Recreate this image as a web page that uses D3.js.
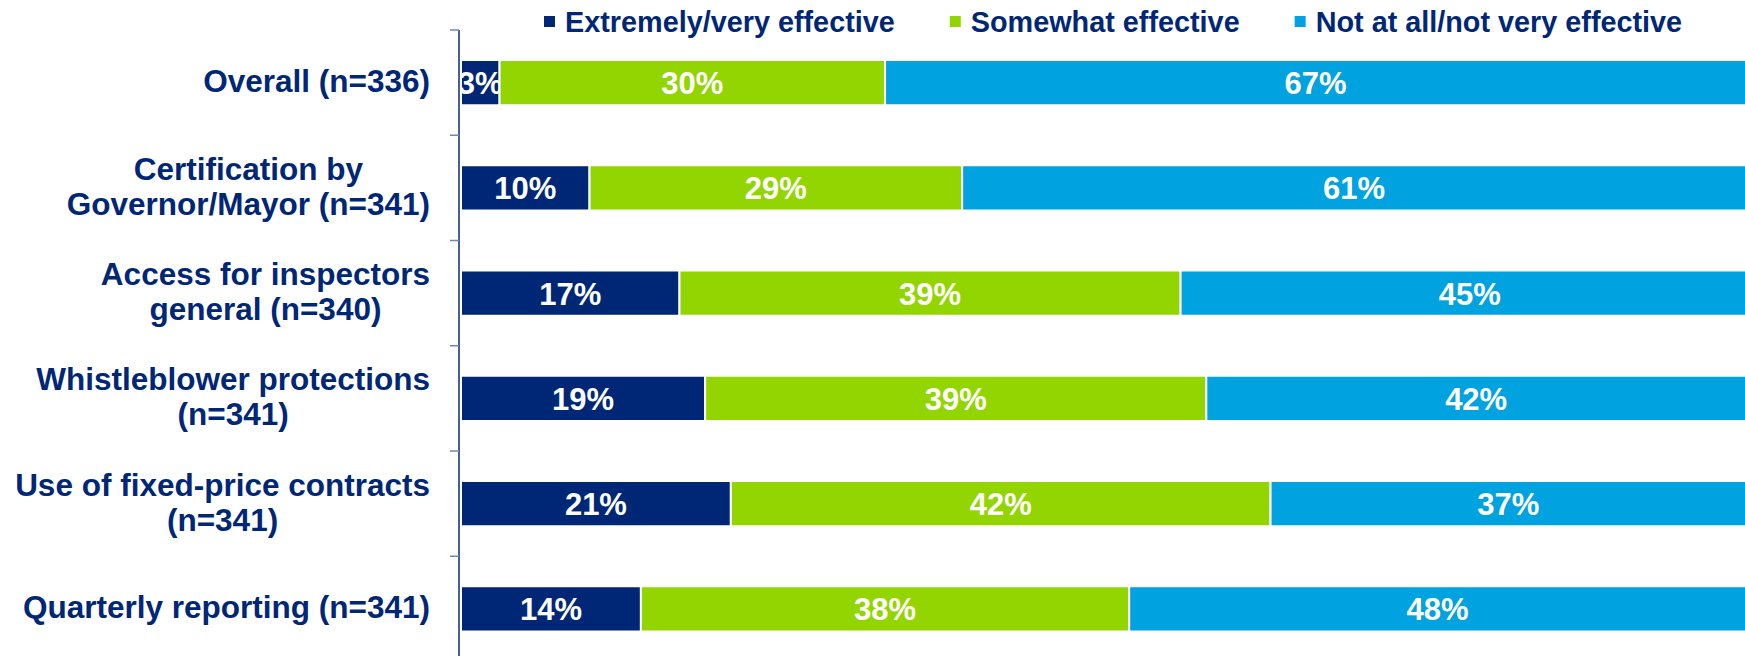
<!DOCTYPE html>
<html>
<head>
<meta charset="utf-8">
<script src="https://cdn.jsdelivr.net/npm/d3@7"></script>
<style>
  html, body { margin: 0; padding: 0; background: #fff; overflow: hidden; }
  svg { display: block; font-family: "Liberation Sans", Arial, sans-serif; font-weight: bold; }
</style>
</head>
<body>
<div id="chart"></div>
<script>
// categories (top to bottom), each split into label lines
const categories = [
    'Overall (n=336)',
    'Certification by Governor/Mayor (n=341)',
    'Access for inspectors general (n=340)',
    'Whistleblower protections (n=341)',
    'Use of fixed-price contracts (n=341)',
    'Quarterly reporting (n=341)'
];
const labelLines = [
    ['Overall (n=336)'],
    ['Certification by', 'Governor/Mayor (n=341)'],
    ['Access for inspectors', 'general (n=340)'],
    ['Whistleblower protections', '(n=341)'],
    ['Use of fixed-price contracts', '(n=341)'],
    ['Quarterly reporting (n=341)']
];

const seriesNames = ['Extremely/very effective', 'Somewhat effective', 'Not at all/not very effective'];
const seriesColors = ['#002776', '#93d500', '#00a2e0'];

// percent values per series, in category order
const extremelyVery = [3, 10, 17, 19, 21, 14];
const somewhat = [30, 29, 39, 39, 42, 38];
const notAtAll = [67, 61, 45, 42, 37, 48];

const width = 1745;
const height = 656;
const axisX = 459;
const textColor = '#002776';

const rows = categories.map((c, i) => ({
    category: c,
    [seriesNames[0]]: extremelyVery[i],
    [seriesNames[1]]: somewhat[i],
    [seriesNames[2]]: notAtAll[i]
}));

const stacked = d3.stack().keys(seriesNames)(rows);

const x = d3.scaleLinear()
    .domain([0, 100])
    .range([axisX + 2, axisX + 2 + 1285]);

const y = d3.scaleBand()
    .domain(categories)
    .range([30, 661.5])
    .padding(0);

const barH = y.bandwidth() * 0.43;
const barOffset = (y.bandwidth() - barH) / 2;

const svg = d3.select('#chart')
    .append('svg')
    .attr('width', width)
    .attr('height', height);

// bars
const layers = svg.selectAll('.layer')
    .data(stacked)
    .enter()
    .append('g')
    .attr('class', 'layer')
    .attr('fill', (d, i) => seriesColors[i]);

layers.selectAll('rect')
    .data(d => d)
    .enter()
    .append('rect')
    .attr('x', d => x(d[0]))
    .attr('y', d => y(d.data.category) + barOffset)
    .attr('width', d => x(d[1]) - x(d[0]))
    .attr('height', barH)
    .attr('stroke', '#fff')
    .attr('stroke-width', 2);

// value labels
layers.selectAll('text')
    .data(d => d)
    .enter()
    .append('text')
    .attr('x', d => (x(d[0]) + x(d[1])) / 2)
    .attr('y', d => y(d.data.category) + y.bandwidth() / 2 + 11.5)
    .attr('text-anchor', 'middle')
    .style('font-size', '31px')
    .style('fill', '#fff')
    .text(d => `${d[1] - d[0]}%`);

// axis line and ticks at band boundaries
const tickYs = categories.map(c => y(c)).concat([y.range()[1]]);
svg.append('line')
    .attr('x1', axisX).attr('x2', axisX)
    .attr('y1', y.range()[0]).attr('y2', height)
    .attr('stroke', '#0b2a6f')
    .attr('stroke-width', 1.5);

svg.selectAll('.tick')
    .data(tickYs)
    .enter()
    .append('line')
    .attr('class', 'tick')
    .attr('x1', axisX - 9).attr('x2', axisX)
    .attr('y1', d => d).attr('y2', d => d)
    .attr('stroke', '#6f87b8')
    .attr('stroke-width', 1.5);

// category labels: centered lines, block right-aligned to the axis
categories.forEach((c, i) => {
    const lines = labelLines[i];
    const g = svg.append('g');
    const cy = y(c) + y.bandwidth() / 2;
    const lineH = 35;
    const firstBase = cy + 9.5 - (lines.length - 1) * lineH / 2;
    const texts = lines.map((line, j) => g.append('text')
        .attr('y', firstBase + j * lineH)
        .attr('text-anchor', 'middle')
        .style('font-size', '31.5px')
        .style('fill', textColor)
        .text(line));
    const maxW = d3.max(texts, t => t.node().getComputedTextLength());
    texts.forEach(t => t.attr('x', 430 - maxW / 2));
});

// legend
let lx = 544;
seriesNames.forEach((name, i) => {
    svg.append('rect')
        .attr('x', lx)
        .attr('y', 16)
        .attr('width', 11)
        .attr('height', 11)
        .attr('fill', seriesColors[i]);
    const t = svg.append('text')
        .attr('x', lx + 21)
        .attr('y', 31.5)
        .style('font-size', '28.8px')
        .style('fill', textColor)
        .text(name);
    lx += 21 + t.node().getComputedTextLength() + 55;
});
</script>
</body>
</html>
